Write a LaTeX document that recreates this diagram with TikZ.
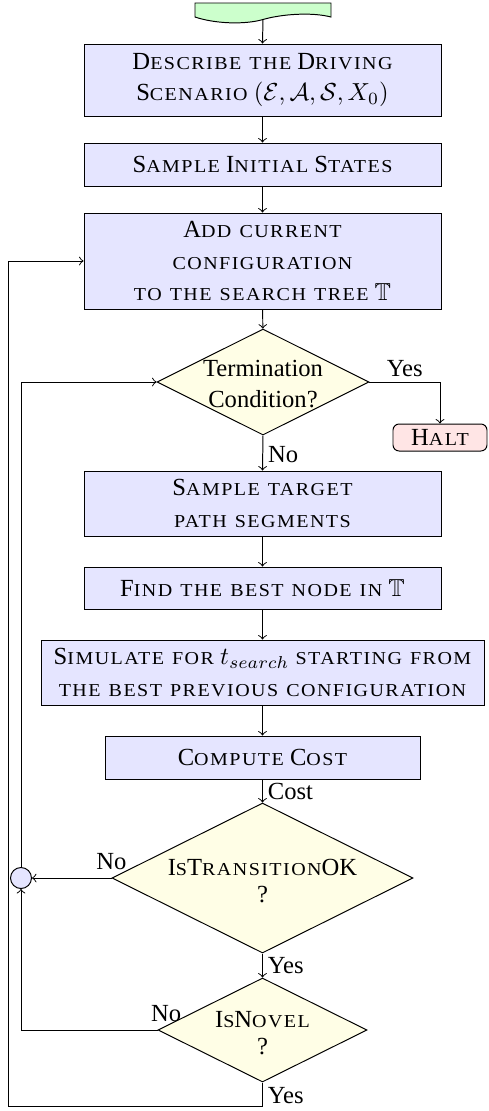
\documentclass[tikz,border=0pt]{standalone}
\usepackage{fontspec}
\setmainfont{Liberation Serif}
\newfontfamily\scf[Scale=0.74,FakeStretch=1.1,LetterSpace=8,WordSpace=1.25]{Liberation Serif}
\usepackage{amssymb}
\usetikzlibrary{shapes.geometric}

\def\upx{0.4065pt}
% small-capital lettering
\newcommand\smc[1]{{\scf #1}}
% fixed-size text inside decision diamonds
\newcommand\dtxt[2][-7.2pt]{\raisebox{#1}{\smash{\makebox[0pt]{\begin{tabular}{@{}c@{}}#2\end{tabular}}}}}

\tikzset{
  every node/.style={font=\fontsize{10}{12.8}\selectfont},
  proc/.style={draw, fill=blue!10, align=center, inner sep=0pt, minimum width=357*\upx},
  decide/.style={draw, fill=yellow!10, diamond, inner sep=0pt},
  halted/.style={draw, fill=red!10, rounded corners=2.5pt, inner sep=0pt,
    minimum width=94*\upx, minimum height=27*\upx},
  joint/.style={draw, fill=blue!10, circle, inner sep=0pt, minimum size=21*\upx},
  tag/.style={inner sep=2pt},
}

\begin{document}
\begin{tikzpicture}[x=\upx, y=-\upx, >=to]
\useasboundingbox (0,0) rectangle (489,1111);

% start terminal
\draw[fill=green!20] (195,3) -- (195,17)
  .. controls (214,23.5) and (244,25) .. (263,19.5)
  .. controls (282,14) and (312,12) .. (331,17) -- (331,3) -- cycle;
\coordinate (src) at (263,19.5);

% process steps
\node[proc, minimum height=72*\upx] (b1) at (262.5,80)
  {D\smc{ESCRIBE THE} D\smc{RIVING}\\ S\smc{CENARIO} $(\mathcal{E},\mathcal{A},\mathcal{S},X_0)$};
\node[proc, minimum height=43*\upx] (b2) at (262.5,164.5)
  {S\smc{AMPLE} I\smc{NITIAL} S\smc{TATES}};
\node[proc, minimum height=96*\upx] (b3) at (262.5,261)
  {A\smc{DD CURRENT}\\ \smc{CONFIGURATION}\\ \smc{TO THE SEARCH TREE} $\mathbb{T}$};
\node[decide, minimum width=212*\upx, minimum height=106*\upx] (d1) at (263,382)
  {\dtxt[-7.8pt]{Termination\\Condition?}};
\node[halted] (halt) at (440,437.5) {H\smc{ALT}};
\node[proc, minimum height=65*\upx] (b4) at (262.5,503.5)
  {S\smc{AMPLE TARGET}\\ \smc{PATH SEGMENTS}};
\node[proc, minimum height=42*\upx] (b5) at (262.5,588)
  {F\smc{IND THE BEST NODE IN} $\mathbb{T}$};
\node[proc, minimum width=443*\upx, minimum height=65*\upx] (b6) at (262.5,672.5)
  {S\smc{IMULATE FOR} $t_{search}$ \smc{STARTING FROM}\\ \smc{THE BEST PREVIOUS CONFIGURATION}};
\node[proc, minimum width=315*\upx, minimum height=43*\upx] (b7) at (262.5,757.5)
  {C\smc{OMPUTE} C\smc{OST}};
\node[decide, minimum width=301*\upx, minimum height=150*\upx] (d2) at (262.5,878)
  {\dtxt[-8.8pt]{I\smc{S}T\smc{RANSITION}OK\\[-1.8pt]?}};
\node[joint] (jn) at (21,878) {};
\node[decide, minimum width=209*\upx, minimum height=104*\upx] (d3) at (262.5,1030)
  {\dtxt[-8.8pt]{I\smc{S}N\smc{OVEL}\\[-1.8pt]?}};
\coordinate (lb) at (8,1106);

% connectors
\draw[->] (src) -- (b1.north);
\draw[->] (b1) -- (b2);
\draw[->] (b2) -- (b3);
\draw[->] (b3) -- (d1);
\draw[->] (d1.east) -| node[tag, above, pos=0.25] {Yes} (halt.north);
\draw[->] (d1.south) -- node[tag, right, pos=0.55] {No} (b4.north);
\draw[->] (b4) -- (b5);
\draw[->] (b5) -- (b6);
\draw[->] (b6) -- (b7);
\draw[->] (b7.south) -- node[tag, right] {Cost} (d2.north);
\draw[->] (d2.west) -- node[above, pos=0] {No} (jn.east);
\draw[->] (d2.south) -- node[tag, right] {Yes} (d3.north);
\draw[->] (d3.west) -- node[above, pos=0, xshift=3.5pt] {No} (d3.west -| jn.south) -- (jn.south);
\draw[->] (jn.north) |- (d1.west);
\draw[->] (d3.south) -- node[tag, right, pos=0.55] {Yes} (d3.south |- lb) -- (lb) |- (b3.west);
\end{tikzpicture}
\end{document}
